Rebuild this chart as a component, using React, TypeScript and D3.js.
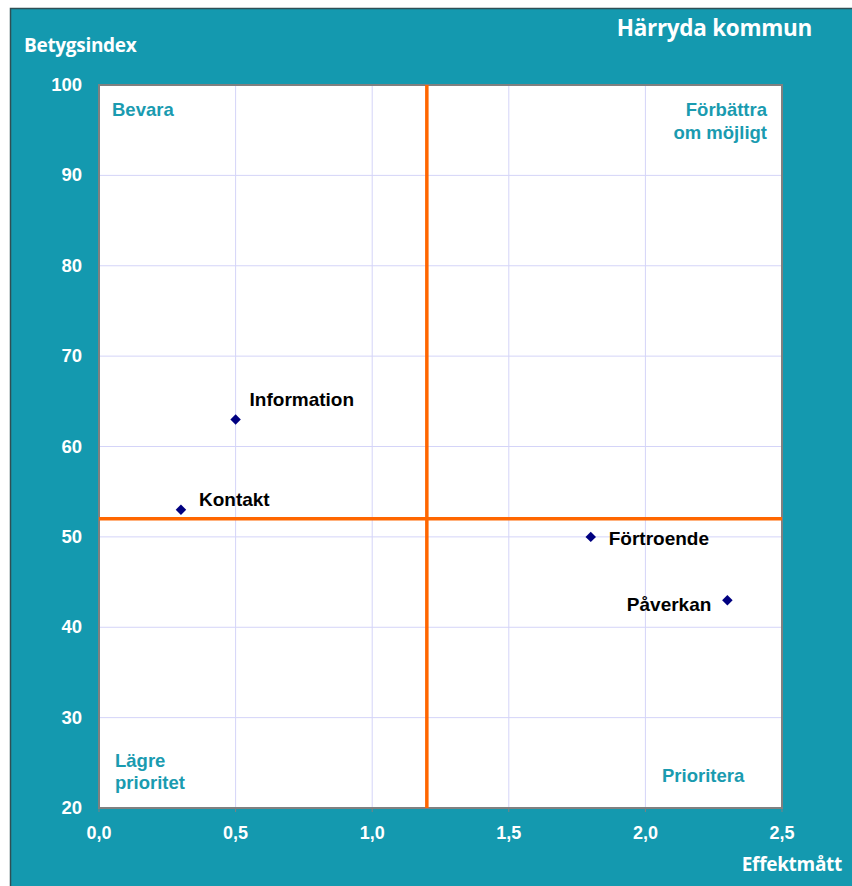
import { useRef, useEffect } from 'react';
import * as d3 from 'd3';

const names = ['Information', 'Kontakt', 'Förtroende', 'Påverkan'];
const effekt = [0.5, 0.3, 1.8, 2.3];
const betyg = [63, 53, 50, 43];
const xTicks = [0, 0.5, 1.0, 1.5, 2.0, 2.5];
const yTicks = [20, 30, 40, 50, 60, 70, 80, 90, 100];
const splitX = 1.2;
const splitY = 52;

const W = 852;
const H = 886;
const teal = '#1499AF';

export default function App() {
  const svgRef = useRef<SVGSVGElement>(null);

  useEffect(() => {
    if (!svgRef.current) return;
    const svg = d3.select(svgRef.current);
    svg.selectAll('*').remove();

    const margin = { top: 85, right: 70, bottom: 78, left: 99 };
    const x = d3.scaleLinear().domain([0, 2.5]).range([margin.left, W - margin.right]);
    const y = d3.scaleLinear().domain([20, 100]).range([H - margin.bottom, margin.top]);

    // background panel
    svg.append('rect').attr('x', 10).attr('y', 8).attr('width', W - 10).attr('height', H - 8).attr('fill', teal);
    svg.append('path')
      .attr('d', `M10.5,${H} L10.5,8.5 L${W},8.5`)
      .attr('fill', 'none').attr('stroke', '#2f4f55').attr('stroke-width', 1.5);

    // plot area
    svg.append('rect')
      .attr('x', x(0)).attr('y', y(100))
      .attr('width', x(2.5) - x(0)).attr('height', y(20) - y(100))
      .attr('fill', '#fff');

    const grid = svg.append('g');
    grid.selectAll('line.h').data(yTicks.slice(1, -1)).join('line')
      .attr('x1', x(0)).attr('x2', x(2.5))
      .attr('y1', d => y(d)).attr('y2', d => y(d))
      .attr('stroke', '#d4d4f8').attr('stroke-width', 1);
    grid.selectAll('line.v').data(xTicks.slice(1, -1)).join('line')
      .attr('y1', y(100)).attr('y2', y(20))
      .attr('x1', d => x(d)).attr('x2', d => x(d))
      .attr('stroke', '#d4d4f8').attr('stroke-width', 1);

    // small tick marks at bottom
    svg.append('g').selectAll('line').data(xTicks).join('line')
      .attr('x1', d => x(d)).attr('x2', d => x(d))
      .attr('y1', y(20)).attr('y2', y(20) + 4)
      .attr('stroke', '#808080');

    svg.append('rect')
      .attr('x', x(0)).attr('y', y(100))
      .attr('width', x(2.5) - x(0)).attr('height', y(20) - y(100))
      .attr('fill', 'none').attr('stroke', '#808080').attr('stroke-width', 2);

    // orange split lines
    svg.append('line')
      .attr('x1', x(splitX)).attr('x2', x(splitX)).attr('y1', y(100)).attr('y2', y(20))
      .attr('stroke', '#FF6600').attr('stroke-width', 3.5);
    svg.append('line')
      .attr('x1', x(0)).attr('x2', x(2.5)).attr('y1', y(splitY)).attr('y2', y(splitY))
      .attr('stroke', '#FF6600').attr('stroke-width', 3.5);

    // tick labels
    const tickFont = '"Liberation Sans", Arial, sans-serif';
    svg.append('g').selectAll('text').data(yTicks).join('text')
      .attr('x', x(0) - 17).attr('y', d => y(d) + 6)
      .attr('text-anchor', 'end')
      .attr('font-family', tickFont).attr('font-weight', 'bold').attr('font-size', 18.5)
      .attr('fill', '#fff')
      .text(d => String(d));
    svg.append('g').selectAll('text').data(xTicks).join('text')
      .attr('x', d => x(d)).attr('y', y(20) + 31)
      .attr('text-anchor', 'middle')
      .attr('font-family', tickFont).attr('font-weight', 'bold').attr('font-size', 18)
      .attr('fill', '#fff')
      .text(d => d3.format('.1f')(d).replace('.', ','));

    // titles
    const titleFont = '"Open Sans", Lato, sans-serif';
    svg.append('text').attr('x', 24).attr('y', 52)
      .attr('font-family', titleFont).attr('font-weight', 'bold').attr('font-size', 19)
      .attr('fill', '#fff').attr('letter-spacing', -0.3).text('Betygsindex');
    svg.append('text').attr('x', 812).attr('y', 36).attr('text-anchor', 'end')
      .attr('font-family', titleFont).attr('font-weight', 'bold').attr('font-size', 22.5)
      .attr('fill', '#fff').attr('letter-spacing', -0.3).text('Härryda kommun');
    svg.append('text').attr('x', 842).attr('y', 871).attr('text-anchor', 'end')
      .attr('font-family', titleFont).attr('font-weight', 'bold').attr('font-size', 19)
      .attr('fill', '#fff').attr('letter-spacing', -0.3).text('Effektmått');

    // quadrant labels
    const q = svg.append('g')
      .attr('font-family', tickFont).attr('font-weight', 'bold').attr('font-size', 18.5)
      .attr('fill', '#1A9BB0');
    q.append('text').attr('x', 112).attr('y', 116).text('Bevara');
    q.append('text').attr('x', 767).attr('y', 116).attr('text-anchor', 'end').text('Förbättra');
    q.append('text').attr('x', 767).attr('y', 139).attr('text-anchor', 'end').text('om möjligt');
    q.append('text').attr('x', 115).attr('y', 767).text('Lägre');
    q.append('text').attr('x', 115).attr('y', 789).text('prioritet');
    q.append('text').attr('x', 662).attr('y', 782).text('Prioritera');

    // points
    const pts = names.map((n, i) => ({ n, ex: effekt[i], by: betyg[i] }));
    const sym = d3.symbol().type(d3.symbolDiamond2).size(70);
    svg.append('g').selectAll('path').data(pts).join('path')
      .attr('d', sym)
      .attr('transform', d => `translate(${x(d.ex)},${y(d.by)})`)
      .attr('fill', '#000080');

    const offsets: Record<string, [number, number, string]> = {
      'Information': [14, -13, 'start'],
      'Kontakt': [18, -4, 'start'],
      'Förtroende': [18, 8, 'start'],
      'Påverkan': [-16, 11, 'end'],
    };
    svg.append('g').selectAll('text').data(pts).join('text')
      .attr('x', d => x(d.ex) + offsets[d.n][0])
      .attr('y', d => y(d.by) + offsets[d.n][1])
      .attr('text-anchor', d => offsets[d.n][2])
      .attr('font-family', tickFont).attr('font-weight', 'bold').attr('font-size', 19)
      .attr('fill', '#000')
      .text(d => d.n);
  }, []);

  return (
    <div style={{ position: 'absolute', left: 0, top: 0 }}>
      <svg ref={svgRef} width={W} height={H} style={{ display: 'block' }}></svg>
    </div>
  );
}
